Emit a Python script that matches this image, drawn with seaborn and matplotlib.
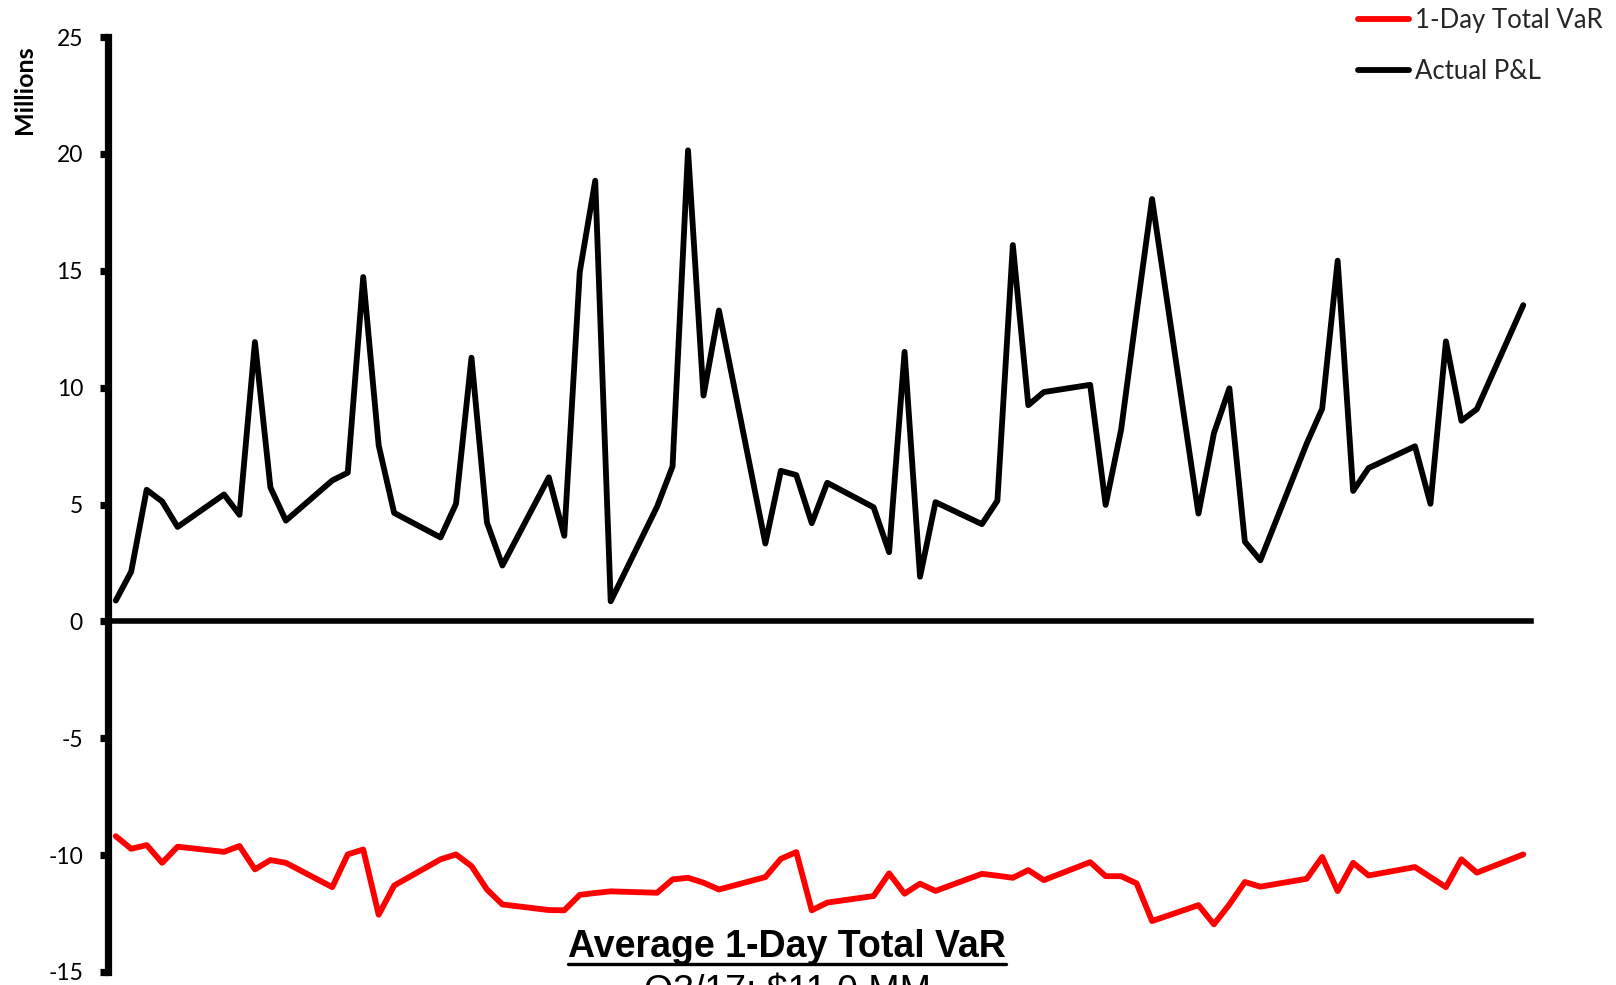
import numpy as np
import pandas as pd
import matplotlib
matplotlib.use("Agg")
import matplotlib.pyplot as plt
import seaborn as sns
from matplotlib.lines import Line2D

# ---------------- data ----------------
# business days of the period (May 1 - Jul 31, 2017)
dates = pd.bdate_range("2017-05-01", "2017-07-31")

pnl = [0.89, 2.13, 5.63, 5.13, 4.04,
       5.43, 4.56, 11.95, 5.73, 4.31,
       6.03, 6.36, 14.73, 7.53, 4.64,
       3.59, 5.03, 11.28, 4.23, 2.39,
       6.16, 3.66, 14.95, 18.85, 0.86,
       4.91, 6.63, 20.15, 9.66, 13.30,
       3.33, 6.44, 6.26, 4.20, 5.93,
       4.88, 2.96, 11.53, 1.91, 5.10,
       4.16, 5.16, 16.10, 9.25, 9.81,
       10.12, 4.98, 8.20, 13.20, 18.07,
       4.61, 8.05, 9.97, 3.41, 2.61,
       7.61, 9.10, 15.43, 5.58, 6.56,
       7.49, 5.03, 11.98, 8.58, 9.08,
       13.53]

var = [-9.19, -9.73, -9.57, -10.33, -9.64,
       -9.86, -9.61, -10.61, -10.21, -10.33,
       -11.37, -9.97, -9.76, -12.55, -11.30,
       -10.18, -9.97, -10.47, -11.47, -12.11,
       -12.35, -12.36, -11.70, -11.62, -11.55,
       -11.61, -11.04, -10.97, -11.18, -11.47,
       -10.94, -10.16, -9.87, -12.36, -12.03,
       -11.75, -10.78, -11.65, -11.22, -11.53,
       -10.80, -10.88, -10.97, -10.64, -11.07,
       -10.30, -10.90, -10.90, -11.21, -12.82,
       -12.14, -12.96, -12.11, -11.15, -11.35,
       -11.01, -10.08, -11.54, -10.33, -10.87,
       -10.51, -10.94, -11.37, -10.18, -10.75,
       -9.97]

series_names = ["1-Day Total VaR", "Actual P&L"]
series_colors = ["#FF0000", "#000000"]
y_ticks = [-15, -10, -5, 0, 5, 10, 15, 20, 25]
y_label = "Millions"
title_line1 = "Average 1-Day Total VaR"
title_line2 = "Q3/17: $11.0 MM"

# ---------------- style ----------------
sns.set_style("white")
plt.rcParams["font.family"] = ["Lato", "DejaVu Sans"]
plt.rcParams["axes.unicode_minus"] = False

W, H = 1616, 985
fig = plt.figure(figsize=(W / 100, H / 100), dpi=100)
ax = fig.add_axes([108 / W, 13 / H, 1423 / W, 935 / H])

n = len(dates)
df = pd.DataFrame({
    "date": list(dates) * 2,
    "value": var + pnl,
    "series": [series_names[0]] * n + [series_names[1]] * n,
})

LW = 4.2
sns.lineplot(data=df, x="date", y="value", hue="series",
             hue_order=series_names, palette=series_colors,
             linewidth=LW, errorbar=None, ax=ax)

for ln in ax.lines:
    ln.set_solid_joinstyle("round")
    ln.set_solid_capstyle("round")

ax.set_ylim(-15, 25)
ax.set_yticks(y_ticks)
ax.set_yticklabels([str(t) for t in y_ticks])
half = pd.Timedelta(hours=12)
ax.set_xlim(dates[0] - half, dates[-1] + half)
ax.set_xticks([])
ax.set_xlabel("")
ax.set_ylabel("")

for s in ["top", "right"]:
    ax.spines[s].set_visible(False)
ax.spines["left"].set_linewidth(5.2)
ax.spines["left"].set_color("black")
ax.spines["bottom"].set_position(("data", 0))
ax.spines["bottom"].set_linewidth(4.0)
ax.spines["bottom"].set_color("black")

ax.tick_params(axis="y", left=True, direction="out", length=6, width=5.2,
               color="black", pad=12, labelsize=16.5, labelcolor="black")
ax.tick_params(axis="x", bottom=False, labelbottom=False)

# legend
handles, labels = ax.get_legend_handles_labels()
if ax.get_legend() is not None:
    ax.get_legend().remove()
for h in handles:
    h.set_linewidth(LW)
    try:
        h.set_solid_capstyle("round")
    except Exception:
        pass
fig.legend(handles, labels, loc="upper left",
           bbox_to_anchor=(1358 / W, 1 - 8 / H), frameon=False,
           fontsize=18.5, handlelength=2.0, handletextpad=0.2,
           labelspacing=1.0, borderpad=0, borderaxespad=0)

# y axis label
fig.text(25 / W, 1 - 90 / H, y_label, rotation=90, ha="center", va="center",
         fontsize=18, fontweight="bold", color="black")

# bottom annotation
arial = ["Liberation Sans", "DejaVu Sans"]
t1 = fig.text(787 / W, 1 - 957 / H, title_line1, ha="center", va="baseline",
              fontsize=27, fontweight="bold", family=arial, color="black")
fig.text(787 / W, 1 - 1002 / H, title_line2, ha="center", va="baseline",
         fontsize=27, family=arial, color="black")

fig.canvas.draw()
bb = t1.get_window_extent()
uy = (H - 964) / H
fig.add_artist(Line2D([bb.x0 / W, bb.x1 / W], [uy, uy], transform=fig.transFigure,
                      color="black", linewidth=2.4))

fig.savefig("out.png", dpi=100)
